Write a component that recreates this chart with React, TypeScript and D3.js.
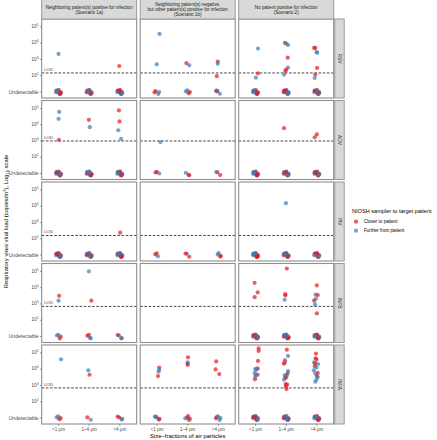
import React from "react";
import * as d3 from "d3";

const viruses = ["RSV", "ADV", "PIV", "INFB", "INFA"];
const scenarios = [
  ["Neighboring patient(s) positive for infection", "(Scenario 1a)"],
  ["Neighboring patient(s) negative,", "but other patient(s) positive for infection", "(Scenario 1b)"],
  ["No patient positive for infection", "(Scenario 2)"],
];
const sizes = ["<1 μm", "1–4 μm", ">4 μm"];
const groups = ["Closer to patient", "Further from patient"];
const groupColors = ["#E41A1C", "#377EB8"];
const yTicks = [5, 4, 3, 2];
// LOD per virus, log10 copies/m3
const lodLog = [2.17, 3.0, 2.2, 2.85, 2.85];

// detected points: [scenario, size, group(0 closer,1 further), log10 load, jitter]
type P = [number, number, number, number, number];
const rsvPoints: P[] = [
  [0, 0, 1, 3.34, 0], [0, 2, 0, 2.6, -0.02],
  [1, 0, 1, 4.57, 0.08], [1, 0, 1, 2.7, -0.01], [1, 1, 0, 2.77, -0.04], [1, 1, 1, 2.64, 0.05],
  [1, 2, 0, 2.87, -0.02], [1, 2, 1, 2.74, -0.02], [1, 2, 0, 1.97, -0.05],
  [2, 0, 1, 3.67, 0.08], [2, 0, 0, 2.15, 0.08], [2, 0, 1, 1.88, 0.01],
  [2, 1, 0, 4.02, -0.04], [2, 1, 1, 3.97, 0.01], [2, 1, 1, 3.89, 0.06], [2, 1, 0, 3.11, 0.05],
  [2, 1, 1, 2.5, 0.06], [2, 1, 0, 2.37, 0], [2, 1, 0, 2.29, -0.03], [2, 1, 1, 2.07, -0.07],
  [2, 2, 0, 3.71, -0.09], [2, 2, 0, 3.71, -0.05], [2, 2, 1, 3.46, -0.01], [2, 2, 1, 3.42, 0.01],
  [2, 2, 0, 2.48, 0.01], [2, 2, 0, 2.07, -0.05], [2, 2, 1, 1.86, -0.07],
];
const advPoints: P[] = [
  [0, 0, 1, 4.79, 0.02], [0, 0, 1, 4.36, 0], [0, 0, 0, 3.07, 0.01],
  [0, 1, 0, 4.3, -0.01], [0, 1, 1, 3.85, 0.02],
  [0, 2, 0, 4.88, -0.03], [0, 2, 0, 4.2, -0.01], [0, 2, 1, 3.66, -0.05], [0, 2, 1, 3.13, 0.04],
  [1, 0, 1, 2.93, 0.11],
  [2, 1, 0, 3.79, -0.07], [2, 2, 0, 3.4, 0], [2, 2, 0, 3.23, -0.07],
];
const pivPoints: P[] = [
  [0, 2, 0, 2.37, 0.01],
  [2, 1, 1, 4.19, -0.01],
];
const infbPoints: P[] = [
  [0, 0, 0, 3.5, 0.02], [0, 0, 1, 3.2, 0], [0, 1, 1, 5.0, -0.01], [0, 1, 0, 3.2, 0.07],
  [2, 0, 0, 4.3, -0.03], [2, 0, 0, 3.71, 0.07], [2, 0, 0, 3.42, -0.03],
  [2, 1, 0, 5.18, 0.02], [2, 1, 0, 3.6, -0.03], [2, 1, 0, 3.52, -0.03], [2, 1, 1, 3.26, -0.05],
  [2, 2, 0, 4.14, 0], [2, 2, 1, 3.57, -0.04], [2, 2, 0, 3.55, 0.03], [2, 2, 1, 3.32, -0.03],
  [2, 2, 0, 3.2, -0.09], [2, 2, 1, 2.97, -0.06], [2, 2, 0, 2.42, 0],
];
const infaPoints: P[] = [
  [0, 0, 1, 4.61, 0.08], [0, 1, 1, 3.93, -0.03], [0, 1, 0, 3.66, 0.01],
  [1, 0, 0, 4.1, 0.07], [1, 0, 1, 3.97, 0.07], [1, 0, 1, 3.85, 0.05], [1, 0, 0, 3.58, 0.03],
  [1, 1, 0, 4.73, 0.01], [1, 1, 1, 4.42, 0], [1, 1, 1, 4.36, 0], [1, 1, 0, 4.26, 0],
  [1, 2, 0, 4.48, -0.07], [1, 2, 0, 3.99, -0.09], [1, 2, 0, 3.7, 0.03],
  [2, 0, 0, 5.28, 0.1], [2, 0, 0, 5.12, 0.1], [2, 0, 0, 4.51, 0.08], [2, 0, 0, 4.05, 0.07],
  [2, 0, 1, 4.02, -0.01], [2, 0, 1, 3.97, 0.03], [2, 0, 1, 3.77, -0.03], [2, 0, 0, 3.66, 0.07],
  [2, 0, 1, 3.66, 0.01], [2, 0, 1, 3.54, -0.01], [2, 0, 0, 3.38, -0.02],
  [2, 1, 0, 5.2, 0.02], [2, 1, 1, 4.82, 0.06], [2, 1, 0, 4.55, -0.04], [2, 1, 1, 4.4, -0.04],
  [2, 1, 0, 4.34, -0.08], [2, 1, 1, 3.89, 0.06], [2, 1, 1, 3.77, 0.05], [2, 1, 0, 3.65, 0.02],
  [2, 1, 1, 3.62, -0.05], [2, 1, 1, 3.5, 0], [2, 1, 0, 3.46, -0.03], [2, 1, 1, 3.36, -0.07],
  [2, 1, 0, 3.09, -0.02], [2, 1, 0, 3.05, 0.03], [2, 1, 0, 2.94, -0.01], [2, 1, 0, 2.78, 0.01],
  [2, 2, 0, 4.96, -0.03], [2, 2, 0, 4.67, -0.04], [2, 2, 0, 4.59, -0.01], [2, 2, 1, 4.42, -0.09],
  [2, 2, 0, 4.34, -0.05], [2, 2, 1, 4.32, 0.04], [2, 2, 0, 4.18, -0.07], [2, 2, 1, 4.1, -0.01],
  [2, 2, 1, 3.93, -0.1], [2, 2, 0, 3.77, 0.03], [2, 2, 1, 3.73, -0.05], [2, 2, 0, 3.58, 0],
  [2, 2, 1, 3.52, 0.03], [2, 2, 1, 3.36, -0.01], [2, 2, 1, 3.23, -0.05],
];
const detectedByVirus = [rsvPoints, advPoints, pivPoints, infbPoints, infaPoints];

// undetectable sample counts per virus: [scenario][size] = [closer, further]
const undetRSV = [[[7, 7], [7, 7], [7, 7]], [[2, 2], [2, 2], [2, 2]], [[7, 7], [7, 7], [7, 7]]];
const undetADV = [[[7, 7], [7, 7], [7, 7]], [[2, 1], [2, 1], [2, 1]], [[7, 7], [7, 7], [7, 7]]];
const undetPIV = [[[7, 7], [7, 7], [7, 7]], [[2, 1], [2, 1], [2, 2]], [[7, 7], [7, 7], [7, 7]]];
const undetINFB = [[[2, 2], [2, 2], [2, 2]], [[0, 0], [0, 0], [0, 0]], [[7, 7], [7, 7], [7, 7]]];
const undetINFA = [[[2, 2], [1, 1], [2, 2]], [[3, 2], [3, 2], [2, 3]], [[7, 7], [7, 7], [7, 7]]];
const undetByVirus = [undetRSV, undetADV, undetPIV, undetINFB, undetINFA];
// jitter offsets used for undetectable samples (x in category steps, y in log units)
const jitterX = [-0.07, 0.06, -0.02, 0.08, 0.01, -0.08, 0.04, -0.05, 0.07, -0.01, 0.03, -0.06, 0.05, -0.03];
const jitterY = [0.09, -0.1, 0.03, -0.05, 0.11, -0.02, -0.12, 0.06, 0.0, 0.1, -0.08, 0.04, -0.11, 0.07];

const W = 437;
const H = 440;
const colLeft = [41.7, 140.2, 238.7];
const panelW = 95;
const rowTop = [19, 100.5, 182, 263.5, 345];
const panelH = 79;
const FONT = "'Liberation Sans', Arial, Helvetica, sans-serif";

export default function App() {
  const x = d3.scalePoint<string>().domain(sizes).range([0, panelW]).padding(0.55);
  const step = x.step();
  const y = d3.scaleLinear().domain([0.63, 5.49]).range([panelH, 0]);

  const panels: React.ReactNode[] = [];
  viruses.forEach((v, vi) => {
    scenarios.forEach((_, si) => {
      const px = colLeft[si];
      const py = rowTop[vi];
      const marks: React.ReactNode[] = [];
      // undetectable
      sizes.forEach((sz, zi) => {
        const [nc, nf] = undetByVirus[vi][si][zi];
        const n = Math.max(nc, nf);
        let k = 0;
        for (let i = 0; i < n; i++) {
          for (let g = 0; g < 2; g++) {
            const cnt = g === 0 ? nc : nf;
            if (i >= cnt) continue;
            const j = (k + zi * 3 + si * 5 + vi * 2) % jitterX.length;
            k++;
            marks.push(
              <circle
                key={`u${zi}-${i}-${g}`}
                cx={(x(sz) as number) + jitterX[j] * step}
                cy={y(1 + jitterY[j])}
                r={2.1}
                fill={groupColors[g]}
                fillOpacity={0.7}
              />
            );
          }
        }
      });
      detectedByVirus[vi]
        .filter((p) => p[0] === si)
        .forEach((p, i) => {
          marks.push(
            <circle
              key={`d${i}`}
              cx={(x(sizes[p[1]]) as number) + p[4] * step}
              cy={y(p[3])}
              r={2.1}
              fill={groupColors[p[2]]}
              fillOpacity={0.7}
            />
          );
        });
      panels.push(
        <g key={`p${vi}-${si}`} transform={`translate(${px},${py})`}>
          <rect x={0} y={0} width={panelW} height={panelH} fill="#fff" />
          <line x1={0} x2={panelW} y1={y(lodLog[vi])} y2={y(lodLog[vi])} stroke="#333" strokeWidth={0.9} strokeDasharray="2.6,1.6" />
          {si === 0 && (
            <text x={2.5} y={y(lodLog[vi]) - 2.2} fontSize={4.3} fill="#333" fontFamily={FONT}>LOD</text>
          )}
          {marks}
          <rect x={0} y={0} width={panelW} height={panelH} fill="none" stroke="#8f8f8f" strokeWidth={1.1} />
        </g>
      );
    });
  });

  // y axis labels (left column)
  const yAxes = viruses.map((v, vi) => (
    <g key={`ya${vi}`} transform={`translate(${colLeft[0]},${rowTop[vi]})`}>
      {yTicks.map((t) => (
        <g key={t}>
          <line x1={-1.8} x2={0} y1={y(t)} y2={y(t)} stroke="#555" strokeWidth={0.6} />
          <text x={-3} y={y(t) + 1.2} textAnchor="end" fontSize={5} fill="#4D4D4D" fontFamily={FONT}>
            <tspan>10</tspan>
            <tspan dy={-2} fontSize={3.4}>{t}</tspan>
          </text>
        </g>
      ))}
      <line x1={-1.8} x2={0} y1={y(1)} y2={y(1)} stroke="#555" strokeWidth={0.6} />
      <text x={-3} y={y(1) + 1.8} textAnchor="end" fontSize={5.1} fill="#4D4D4D" fontFamily={FONT}>Undetectable</text>
    </g>
  ));

  // x axis labels (bottom row)
  const xAxes = scenarios.map((_, si) => (
    <g key={`xa${si}`} transform={`translate(${colLeft[si]},${rowTop[4] + panelH})`}>
      {sizes.map((s) => (
        <g key={s}>
          <line x1={x(s)} x2={x(s)} y1={0} y2={1.8} stroke="#555" strokeWidth={0.6} />
          <text x={x(s)} y={6.8} textAnchor="middle" fontSize={4.6} fill="#4D4D4D" fontFamily={FONT}>{s}</text>
        </g>
      ))}
    </g>
  ));

  const topStrips = scenarios.map((lines, si) => {
    const cy = 9.6;
    const lh = 5.2;
    const start = cy - ((lines.length - 1) * lh) / 2;
    return (
      <g key={`ts${si}`} transform={`translate(${colLeft[si]},0)`}>
        <rect x={0} y={-1} width={panelW} height={20} fill="#D9D9D9" stroke="#9a9a9a" strokeWidth={1} />
        {lines.map((l, li) => (
          <text key={li} x={panelW / 2} y={start + li * lh + 1.6} textAnchor="middle" fontSize={4.6} fill="#1A1A1A" fontFamily={FONT}>{l}</text>
        ))}
      </g>
    );
  });

  const rightStrips = viruses.map((v, vi) => (
    <g key={`rs${vi}`} transform={`translate(${colLeft[2] + panelW + 1},${rowTop[vi]})`}>
      <rect x={0} y={0} width={9.5} height={panelH} fill="#D9D9D9" stroke="#9a9a9a" strokeWidth={1} />
      <text transform={`translate(${4.75},${panelH / 2}) rotate(90)`} textAnchor="middle" y={1.7} fontSize={4.8} fill="#1A1A1A" fontFamily={FONT}>{v}</text>
    </g>
  ));

  const yTitleY = (rowTop[0] + rowTop[4] + panelH) / 2;
  const xTitleX = (colLeft[0] + colLeft[2] + panelW) / 2;

  return (
    <svg width={W} height={H} style={{ position: "fixed", left: 0, top: 0, background: "#fff" }}>
      <rect width={W} height={H} fill="#fff" />
      {panels}
      {yAxes}
      {xAxes}
      {topStrips}
      {rightStrips}
      <text transform={`translate(7.5,${yTitleY}) rotate(-90)`} textAnchor="middle" fontSize={5.9} fill="#000" fontFamily={FONT}>
        <tspan>Respiratory virus viral load (copies/m</tspan>
        <tspan dy={-1.8} fontSize={4}>3</tspan>
        <tspan dy={1.8}>), Log</tspan>
        <tspan dy={1.2} fontSize={4}>10</tspan>
        <tspan dy={-1.2}> scale</tspan>
      </text>
      <text x={xTitleX} y={438} textAnchor="middle" fontSize={5.9} fill="#000" fontFamily={FONT}>Size−fractions of air particles</text>
      <g transform="translate(352,0)">
        <text x={0} y={212.5} fontSize={5.6} fill="#000" fontFamily={FONT}>NIOSH sampler to target patient</text>
        {groups.map((gname, gi) => (
          <g key={gname} transform={`translate(0,${221.7 + gi * 9})`}>
            <circle cx={4} cy={0} r={2.1} fill={groupColors[gi]} fillOpacity={0.7} />
            <text x={12} y={1.6} fontSize={4.6} fill="#000" fontFamily={FONT}>{gname}</text>
          </g>
        ))}
      </g>
    </svg>
  );
}
